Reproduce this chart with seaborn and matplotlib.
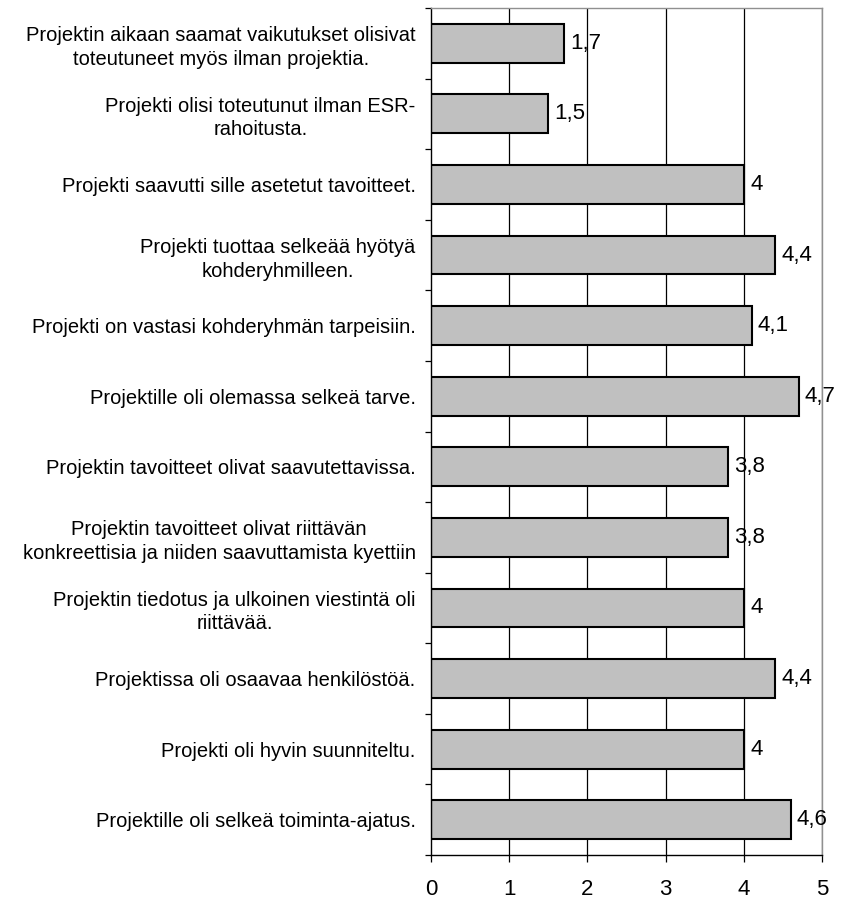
import matplotlib
matplotlib.use("Agg")
import matplotlib.pyplot as plt
import seaborn as sns
import pandas as pd

categories = [
    "Projektin aikaan saamat vaikutukset olisivat\ntoteutuneet myös ilman projektia.",
    "Projekti olisi toteutunut ilman ESR-\nrahoitusta.",
    "Projekti saavutti sille asetetut tavoitteet.",
    "Projekti tuottaa selkeää hyötyä\nkohderyhmilleen.",
    "Projekti on vastasi kohderyhmän tarpeisiin.",
    "Projektille oli olemassa selkeä tarve.",
    "Projektin tavoitteet olivat saavutettavissa.",
    "Projektin tavoitteet olivat riittävän\nkonkreettisia ja niiden saavuttamista kyettiin",
    "Projektin tiedotus ja ulkoinen viestintä oli\nriittävää.",
    "Projektissa oli osaavaa henkilöstöä.",
    "Projekti oli hyvin suunniteltu.",
    "Projektille oli selkeä toiminta-ajatus.",
]
values = [1.7, 1.5, 4.0, 4.4, 4.1, 4.7, 3.8, 3.8, 4.0, 4.4, 4.0, 4.6]
value_labels = ["1,7", "1,5", "4", "4,4", "4,1", "4,7", "3,8", "3,8", "4", "4,4", "4", "4,6"]
x_ticks = [0, 1, 2, 3, 4, 5]

sns.set_style("white")
plt.rcParams["font.family"] = ["Liberation Sans", "DejaVu Sans"]
plt.rcParams["text.color"] = "black"
plt.rcParams["xtick.color"] = "black"
plt.rcParams["ytick.color"] = "black"

df = pd.DataFrame({"label": categories, "value": values})

fig = plt.figure(figsize=(8.45, 9.0), dpi=100)
ax = fig.add_axes([431 / 845, 1 - 855 / 900, (822 - 431) / 845, (855 - 8) / 900])

sns.barplot(data=df, y="label", x="value", orient="h", color="#C0C0C0",
            edgecolor="black", linewidth=1.5, width=0.55, saturation=1, ax=ax)

ax.set_xlim(0, 5)
ax.set_ylim(len(categories) - 0.5, -0.5)
ax.set_xticks(x_ticks)
ax.set_xticklabels([str(t) for t in x_ticks], fontsize=16)
ax.set_xlabel("")
ax.set_ylabel("")
for t in x_ticks[1:]:
    ax.axvline(t, color="black", linewidth=0.9, zorder=0)

ax.set_yticks(range(len(categories)))
ax.set_yticklabels(categories, fontsize=14.5, multialignment="center",
                   linespacing=1.3, color="black")
ax.tick_params(axis="y", which="major", length=0, pad=11, left=False)
ax.set_yticks([i - 0.5 for i in range(len(categories) + 1)], minor=True)
ax.tick_params(axis="y", which="minor", left=True, length=4.5, width=0.9,
               color="black", direction="out")
ax.tick_params(axis="x", bottom=True, length=5, width=0.9, color="black",
               direction="out", pad=12)

for s in ["left", "bottom"]:
    ax.spines[s].set_color("black")
    ax.spines[s].set_linewidth(1.0)
for s in ["top", "right"]:
    ax.spines[s].set_color("#909090")
    ax.spines[s].set_linewidth(1.0)

for i, (v, lab) in enumerate(zip(values, value_labels)):
    ax.annotate(lab, xy=(v, i), xytext=(4.5, 0), textcoords="offset points",
                va="center", ha="left", fontsize=16, color="black",
                annotation_clip=False)

fig.savefig("out.png", dpi=100)
